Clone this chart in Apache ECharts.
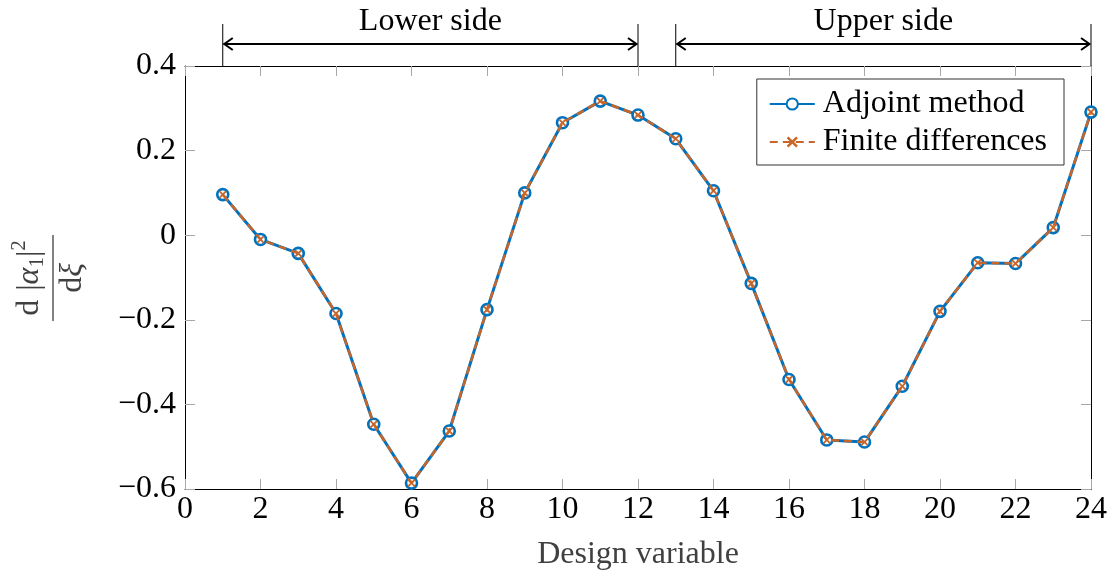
<!DOCTYPE html>
<html>
<head>
<meta charset="utf-8">
<script src="https://cdn.jsdelivr.net/npm/echarts@6/dist/echarts.min.js"></script>
<style>
  html, body { margin: 0; padding: 0; background: #fff; }
  #chart { width: 1111px; height: 576px; }
</style>
</head>
<body>
<div id="chart"></div>
<script>
// Sensitivity of |alpha_1|^2 with respect to each design variable
const designVars = [1, 2, 3, 4, 5, 6, 7, 8, 9, 10, 11, 12, 13, 14, 15, 16, 17, 18, 19, 20, 21, 22, 23, 24];
const adjoint = [0.096, -0.010, -0.043, -0.185, -0.447, -0.586, -0.463, -0.176, 0.100, 0.266, 0.317, 0.284,
                 0.228, 0.105, -0.114, -0.341, -0.484, -0.489, -0.357, -0.180, -0.065, -0.067, 0.018, 0.291];
const finiteDiff = [0.096, -0.010, -0.043, -0.185, -0.447, -0.586, -0.463, -0.176, 0.100, 0.266, 0.317, 0.284,
                    0.228, 0.105, -0.114, -0.341, -0.484, -0.489, -0.357, -0.180, -0.065, -0.067, 0.018, 0.291];
const xTicks = [0, 24, 2];          // min, max, step
const yTicks = [-0.6, 0.4, 0.2];    // min, max, step
// Bracketed ranges of design variables shown above the plot
const sides = [
  { name: 'Lower side', from: 1, to: 12 },
  { name: 'Upper side', from: 13, to: 24 }
];

const FONT = 'Liberation Serif';
const FS = 32;
const BLUE = '#0072BD';
const ORANGE = '#C8662A';
const crossPath = 'path://M0,1.6L1.6,0L5,3.4L8.4,0L10,1.6L6.6,5L10,8.4L8.4,10L5,6.6L1.6,10L0,8.4L3.4,5Z';

const chart = echarts.init(document.getElementById('chart'), null, { renderer: 'canvas' });

function fmtY(v) {
  const r = Math.round(v * 10) / 10;
  if (r === 0) return '0';
  return (r < 0 ? '\u2212' : '') + Math.abs(r).toFixed(1);
}

const tickStyle = { show: true, inside: true, length: 10, lineStyle: { color: '#a8a8a8', width: 1 } };
const lineStyleAxis = { show: true, onZero: false, lineStyle: { color: '#000', width: 1 } };

const option = {
  animation: false,
  backgroundColor: '#fff',
  grid: { left: 185, right: 20, top: 66, bottom: 86, containLabel: false },
  legend: {
    orient: 'vertical',
    right: 47,
    top: 79,
    itemWidth: 45,
    itemHeight: 14,
    itemGap: 6,
    padding: [9, 17, 7, 12],
    borderColor: '#333',
    borderWidth: 1,
    borderRadius: 0,
    backgroundColor: '#fff',
    textStyle: { fontFamily: FONT, fontSize: FS, lineHeight: 32, color: '#000', padding: [0, 0, 0, 3] },
    data: ['Adjoint method', 'Finite differences']
  },
  xAxis: [
    {
      type: 'value', min: xTicks[0], max: xTicks[1], interval: xTicks[2],
      name: 'Design variable', nameLocation: 'middle', nameGap: 50,
      nameTextStyle: { fontFamily: FONT, fontSize: FS, color: '#404040' },
      axisLine: lineStyleAxis, axisTick: tickStyle, splitLine: { show: false },
      axisLabel: { fontFamily: FONT, fontSize: FS, color: '#000', margin: 5 }
    },
    {
      type: 'value', position: 'top', min: xTicks[0], max: xTicks[1], interval: xTicks[2],
      axisLine: lineStyleAxis, axisTick: tickStyle, splitLine: { show: false },
      axisLabel: { show: false }
    }
  ],
  yAxis: [
    {
      type: 'value', min: yTicks[0], max: yTicks[1], interval: yTicks[2],
      axisLine: lineStyleAxis, axisTick: tickStyle, splitLine: { show: false },
      axisLabel: { fontFamily: FONT, fontSize: FS, color: '#000', margin: 9, formatter: fmtY }
    },
    {
      type: 'value', position: 'right', min: yTicks[0], max: yTicks[1], interval: yTicks[2],
      axisLine: lineStyleAxis, axisTick: tickStyle, splitLine: { show: false },
      axisLabel: { show: false }
    }
  ],
  series: [
    {
      name: 'Adjoint method',
      type: 'line',
      z: 2,
      data: designVars.map((x, i) => [x, adjoint[i]]),
      symbol: 'circle',
      symbolSize: 11,
      showAllSymbol: true,
      lineStyle: { color: BLUE, width: 3 },
      itemStyle: { color: '#fff', borderColor: BLUE, borderWidth: 2.6 }
    },
    {
      name: 'Finite differences',
      type: 'line',
      z: 3,
      data: designVars.map((x, i) => [x, finiteDiff[i]]),
      symbol: crossPath,
      symbolSize: 8,
      showAllSymbol: true,
      lineStyle: { color: ORANGE, width: 2.5, type: [8, 5] },
      itemStyle: { color: ORANGE, borderWidth: 0 }
    }
  ]
};

chart.setOption(option);

// Brackets with arrows and labels above the plot area
function buildAnnotations() {
  const els = [];
  const topY = chart.convertToPixel({ yAxisIndex: 0 }, yTicks[1]);
  const lineTop = 24;
  const arrowY = 44;
  sides.forEach(s => {
    const x1 = chart.convertToPixel({ xAxisIndex: 0 }, s.from);
    const x2 = chart.convertToPixel({ xAxisIndex: 0 }, s.to);
    [x1, x2].forEach(x => {
      els.push({ type: 'line', shape: { x1: x, y1: lineTop, x2: x, y2: topY }, style: { stroke: '#000', lineWidth: 1 }, z: 10 });
    });
    els.push({ type: 'line', shape: { x1: x1 + 1, y1: arrowY, x2: x2 - 1, y2: arrowY }, style: { stroke: '#000', lineWidth: 2 }, z: 10 });
    els.push({ type: 'polyline', shape: { points: [[x1 + 10, arrowY - 6], [x1 + 1.5, arrowY], [x1 + 10, arrowY + 6]] },
      style: { stroke: '#000', lineWidth: 2, fill: null }, z: 10 });
    els.push({ type: 'polyline', shape: { points: [[x2 - 10, arrowY - 6], [x2 - 1.5, arrowY], [x2 - 10, arrowY + 6]] },
      style: { stroke: '#000', lineWidth: 2, fill: null }, z: 10 });
    els.push({ type: 'text', x: (x1 + x2) / 2, y: 22,
      style: { text: s.name, fontFamily: FONT, fontSize: FS, fill: '#000', align: 'center', verticalAlign: 'middle' }, z: 10 });
  });

  // Y-axis label: d|alpha_1|^2 / d xi, rotated
  els.push({
    type: 'group',
    x: 53, y: 278,
    rotation: Math.PI / 2,
    children: [
      { type: 'line', shape: { x1: -43, y1: 0, x2: 43, y2: 0 }, style: { stroke: '#404040', lineWidth: 1.3 } },
      { type: 'text', x: 0, y: -3,
        style: {
          text: 'd {bar|}|{it|α}{sub|1}|{sup|2}',
          fontFamily: FONT, fontSize: FS, fill: '#404040', align: 'center', verticalAlign: 'bottom',
          rich: {
            bar: { fontFamily: FONT, fontSize: FS, width: 1 },
            it: { fontFamily: FONT, fontSize: FS, fontStyle: 'italic', fill: '#404040' },
            sub: { fontFamily: FONT, fontSize: 21, fill: '#404040', padding: [16, 0, 0, 0] },
            sup: { fontFamily: FONT, fontSize: 21, fill: '#404040', padding: [0, 0, 20, 0] }
          }
        } },
      { type: 'text', x: 0, y: 4,
        style: {
          text: 'd{it|ξ}', fontFamily: FONT, fontSize: FS, fill: '#404040', align: 'center', verticalAlign: 'top',
          rich: { it: { fontFamily: FONT, fontSize: FS, fontStyle: 'italic', fill: '#404040' } }
        } }
    ]
  });
  return els;
}

chart.setOption({ graphic: { elements: buildAnnotations() } });
</script>
</body>
</html>
